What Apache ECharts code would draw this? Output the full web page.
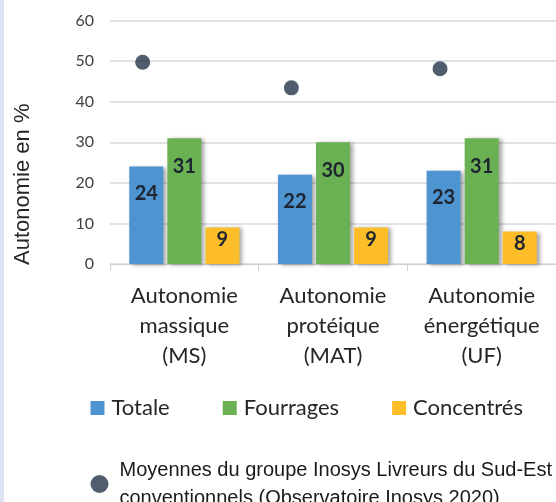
<!DOCTYPE html>
<html>
<head>
<meta charset="utf-8">
<script src="https://cdn.jsdelivr.net/npm/echarts@6/dist/echarts.min.js"></script>
<style>
  html, body { margin: 0; padding: 0; background: #fff; }
  #chart { width: 556px; height: 502px; position: relative; }
  #strip { position: absolute; left: 0; top: 0; width: 4px; height: 502px; background: #dde3f3; z-index: 2; }
</style>
</head>
<body>
<div id="strip"></div>
<div id="chart"></div>
<script>
// data
const categories = ['Autonomie\nmassique\n(MS)', 'Autonomie\nprotéique\n(MAT)', 'Autonomie\nénergétique\n(UF)'];
const totale = [24, 22, 23];
const fourrages = [31, 30, 31];
const concentres = [9, 9, 8];
const moyennesGroupe = [49.7, 43.4, 48.1];
const dotOffset = 0.22; // the dots sit over the blue bar, not the category centre
const yTicks = { min: 0, max: 60, interval: 10 };

const font = 'Lato, "Open Sans", sans-serif';
const arial = '"Liberation Sans", Arial, sans-serif';
const barShadow = { shadowColor: 'rgba(0,0,0,0.35)', shadowBlur: 4, shadowOffsetX: 3, shadowOffsetY: 1 };
const dotName = 'Moyennes du groupe Inosys Livreurs du Sud-Est\nconventionnels (Observatoire Inosys 2020)';

const myChart = echarts.init(document.getElementById('chart'));

function barLabel(offsetY) {
  return {
    show: true,
    position: ['50%', offsetY],
    align: 'center',
    verticalAlign: 'middle',
    fontFamily: font,
    fontSize: 20,
    fontWeight: 'bold',
    color: '#1e2530'
  };
}

const options = {
  animation: false,
  grid: { left: 110, top: 20.5, width: 450, height: 243.5 },
  legend: [
    {
      data: ['Totale', 'Fourrages', 'Concentrés'],
      left: 90.5,
      top: 397,
      padding: 0,
      itemWidth: 14,
      itemHeight: 14,
      itemGap: 53,
      icon: 'rect',
      textStyle: { fontFamily: font, fontSize: 22, color: '#262626', padding: [0, 0, 0, 2] }
    },
    {
      data: [dotName],
      left: 90.5,
      top: 456,
      padding: 0,
      itemWidth: 18,
      itemHeight: 18,
      icon: 'circle',
      textStyle: { fontFamily: arial, fontSize: 20, color: '#1a1a1a', lineHeight: 28, padding: [0, 0, 0, 6] }
    }
  ],
  xAxis: [
    {
      type: 'category',
      data: categories,
      axisLine: { lineStyle: { color: '#cfcfcf', width: 1 } },
      axisTick: { show: true, length: 7, lineStyle: { color: '#cfcfcf' } },
      axisLabel: { interval: 0, fontFamily: font, fontSize: 22, color: '#262626', lineHeight: 30, margin: 17 }
    },
    {
      // hidden linear axis so the dots can be placed over the first bar
      type: 'value',
      min: 0,
      max: categories.length,
      show: false
    }
  ],
  yAxis: {
    type: 'value',
    min: yTicks.min,
    max: yTicks.max,
    interval: yTicks.interval,
    name: 'Autonomie en %',
    nameLocation: 'middle',
    nameRotate: 90,
    nameGap: 76,
    nameTextStyle: { fontFamily: arial, fontSize: 22, color: '#262626', padding: [0, 84, 0, 0] },
    axisLine: { show: false },
    axisTick: { show: false },
    axisLabel: { fontFamily: font, fontSize: 16, color: '#404040', margin: 16 },
    splitLine: { lineStyle: { color: '#d9d9d9', width: 1.5 } }
  },
  series: [
    {
      name: 'Totale', type: 'bar', xAxisIndex: 0,
      data: totale, barWidth: 34, barGap: '12%',
      itemStyle: Object.assign({ color: '#4d94d1' }, barShadow),
      label: barLabel(27)
    },
    {
      name: 'Fourrages', type: 'bar', xAxisIndex: 0,
      data: fourrages, barWidth: 34, barGap: '12%',
      itemStyle: Object.assign({ color: '#6ab154' }, barShadow),
      label: barLabel(28)
    },
    {
      name: 'Concentrés', type: 'bar', xAxisIndex: 0,
      data: concentres, barWidth: 34, barGap: '12%',
      itemStyle: Object.assign({ color: '#fdbd28' }, barShadow),
      label: barLabel(12)
    },
    {
      name: dotName,
      type: 'scatter', xAxisIndex: 1,
      data: moyennesGroupe.map((v, i) => [i + dotOffset, v]),
      symbolSize: 15,
      itemStyle: { color: '#243447' },
      z: 5
    }
  ]
};

myChart.setOption(options);
</script>
</body>
</html>
